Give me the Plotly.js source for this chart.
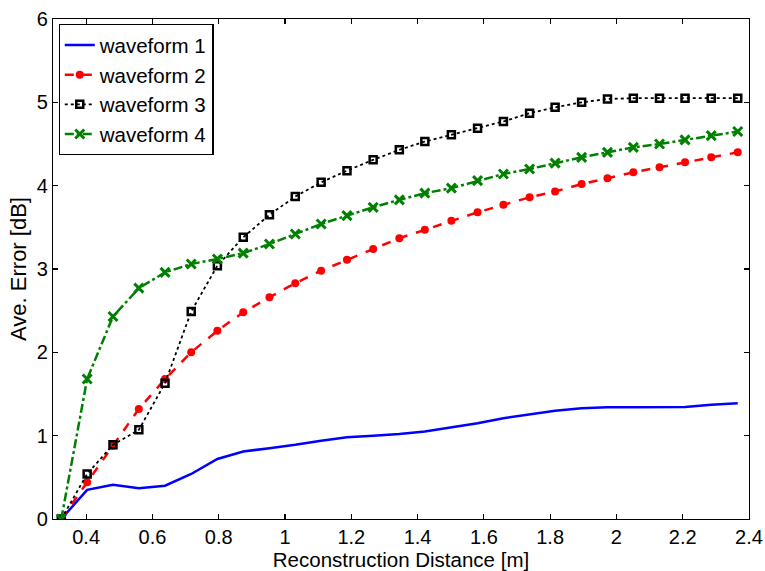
<!DOCTYPE html>
<html>
<head>
<meta charset="utf-8">
<script src="https://cdn.plot.ly/plotly-3.0.1.min.js"></script>
<style>html,body{margin:0;padding:0;background:#fff;}#chart{width:765px;height:571px;}</style>
</head>
<body>
<div id="chart"></div>
<script>
const distance = [0.325, 0.403, 0.481, 0.559, 0.638, 0.717, 0.796, 0.874, 0.953, 1.031, 1.109, 1.187, 1.266, 1.345, 1.422, 1.502, 1.581, 1.659, 1.738, 1.815, 1.895, 1.973, 2.051, 2.130, 2.207, 2.286, 2.366];
const waveform1 = [0, 0.35, 0.41, 0.37, 0.40, 0.54, 0.72, 0.81, 0.85, 0.89, 0.94, 0.98, 1.00, 1.02, 1.05, 1.10, 1.15, 1.21, 1.26, 1.30, 1.33, 1.34, 1.34, 1.34, 1.345, 1.37, 1.39];
const waveform2 = [0, 0.44, 0.88, 1.32, 1.68, 2.00, 2.26, 2.48, 2.66, 2.83, 2.98, 3.11, 3.24, 3.37, 3.47, 3.58, 3.68, 3.77, 3.86, 3.93, 4.02, 4.09, 4.16, 4.22, 4.28, 4.34, 4.40];
const waveform3 = [0, 0.54, 0.89, 1.07, 1.63, 2.49, 3.04, 3.38, 3.65, 3.87, 4.04, 4.18, 4.31, 4.43, 4.53, 4.61, 4.69, 4.77, 4.87, 4.94, 5.00, 5.04, 5.05, 5.05, 5.05, 5.05, 5.05];
const waveform4 = [0, 1.68, 2.43, 2.77, 2.96, 3.06, 3.12, 3.19, 3.30, 3.42, 3.54, 3.64, 3.74, 3.83, 3.91, 3.97, 4.06, 4.14, 4.20, 4.27, 4.34, 4.40, 4.46, 4.50, 4.55, 4.60, 4.65];
const seriesNames = ['waveform 1', 'waveform 2', 'waveform 3', 'waveform 4'];
const xTitle = 'Reconstruction Distance [m]';
const yTitle = 'Ave. Error [dB]';

const FONT = 'Liberation Sans, Arial, sans-serif';
const traces = [
  {x: distance, y: waveform1, name: seriesNames[0], mode: 'lines',
   line: {color: '#0000ff', width: 2.5}},
  {x: distance, y: waveform2, name: seriesNames[1], mode: 'lines+markers',
   line: {color: '#ff0000', width: 2.5, dash: 'dash'},
   marker: {symbol: 'circle', size: 8, color: '#ff0000'}},
  {x: distance, y: waveform3, name: seriesNames[2], mode: 'lines+markers',
   line: {color: '#000000', width: 1.8, dash: 'dot'},
   marker: {symbol: 'square-open', size: 7, color: '#000000', line: {width: 2.5, color: '#000000'}}},
  {x: distance, y: waveform4, name: seriesNames[3], mode: 'lines+markers',
   line: {color: '#008000', width: 2.5, dash: 'dashdot'},
   marker: {symbol: 'x-thin-open', size: 9, color: '#008000', line: {width: 3, color: '#008000'}}}
];

const axisCommon = {
  showgrid: false, zeroline: false, showline: true, mirror: 'allticks',
  linecolor: '#000', linewidth: 1.2, ticks: 'inside', ticklen: 5, tickwidth: 1.2, tickcolor: '#000',
  tickfont: {family: FONT, size: 20, color: '#000'}
};

const layout = {
  width: 765, height: 571,
  margin: {l: 53, r: 16, t: 19, b: 52},
  paper_bgcolor: '#fff', plot_bgcolor: '#fff',
  showlegend: true,
  legend: {x: 0.008, y: 0.99, xanchor: 'left', yanchor: 'top',
           bgcolor: '#fff', bordercolor: '#000', borderwidth: 1.2,
           font: {family: FONT, size: 20.5, color: '#000'}, tracegroupgap: 0},
  xaxis: Object.assign({}, axisCommon, {
    range: [0.3, 2.4], tick0: 0, dtick: 0.2, ticklabelstandoff: 0,
    title: {text: xTitle, font: {family: FONT, size: 20.5, color: '#000'}, standoff: 0}
  }),
  yaxis: Object.assign({}, axisCommon, {
    range: [0, 6], dtick: 1, ticklabelstandoff: 0,
    title: {text: yTitle, font: {family: FONT, size: 22, color: '#000'}, standoff: 4}
  })
};

Plotly.newPlot('chart', traces, layout, {displayModeBar: false, staticPlot: true});
</script>
</body>
</html>
